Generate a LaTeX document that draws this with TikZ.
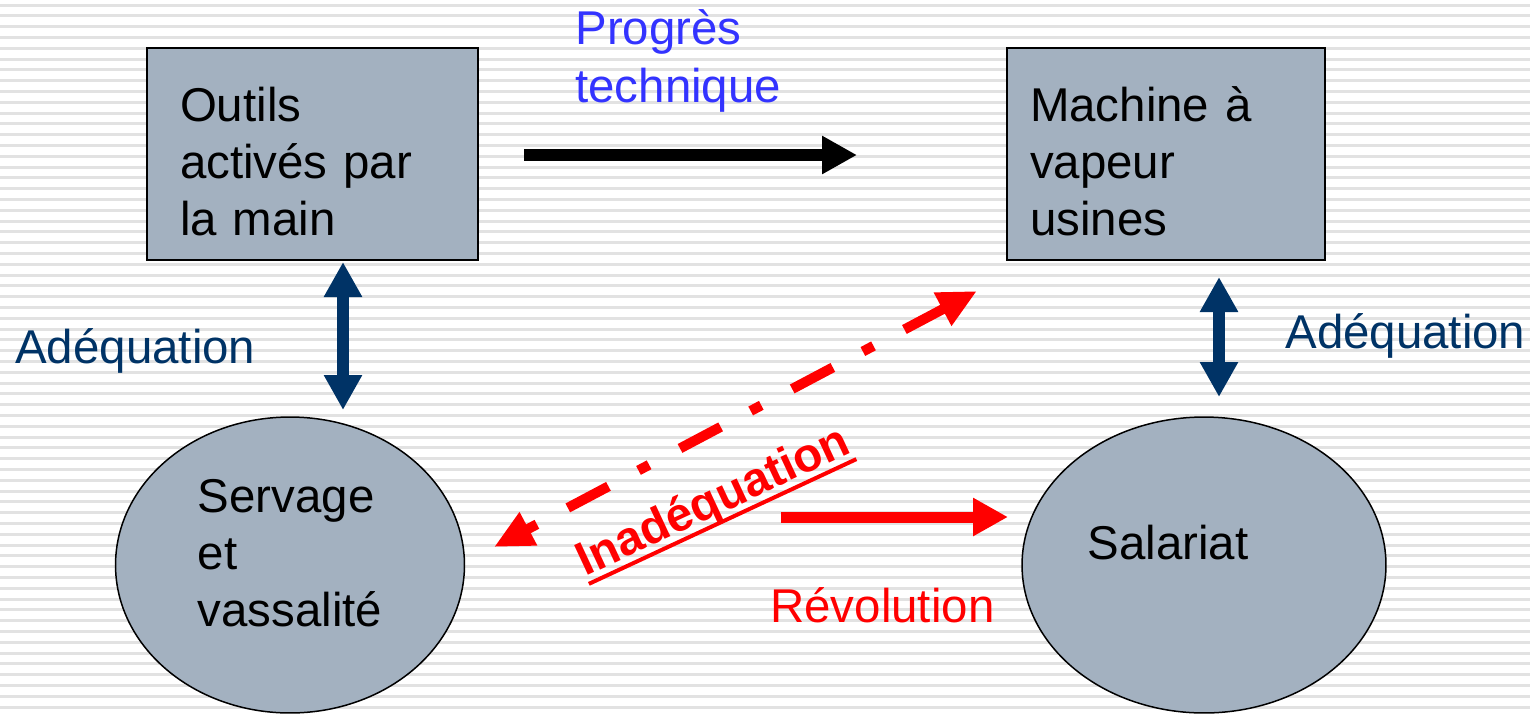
\documentclass[tikz,border=0pt]{standalone}
\usepackage{fontspec}
\setmainfont{Liberation Sans}
\usetikzlibrary{arrows.meta,shapes.geometric}

\definecolor{fondgris}{RGB}{163,177,192}
\definecolor{adeqbleu}{RGB}{0,51,102}
\definecolor{progbleu}{RGB}{51,51,255}
\definecolor{rayure}{RGB}{226,226,226}

% soulignement epais
\newcommand{\souligner}[1]{\setbox0=\hbox{#1}%
  \hbox{\rlap{\rule[-0.2cm]{\wd0}{0.08cm}}\box0}}

\begin{document}
\begin{tikzpicture}[
x=0.02cm,y=-0.02cm,
font=\fontsize{27}{32.5}\selectfont,
stade/.style={rectangle,draw=black,fill=fondgris,line width=0.05cm,
  minimum height=4.24cm,inner ysep=0pt,align=left,
  execute at begin node={\rule{0pt}{0.98cm}}},
rapport/.style={ellipse,draw=black,fill=fondgris,line width=0.03cm,
  minimum height=5.92cm,align=left,inner sep=0pt},
etiquette/.style={inner sep=0pt,align=left,anchor=west},
fleche/.style={line width=0.24cm,-{Triangle[length=0.7cm,width=0.72cm]}},
adeq/.style={adeqbleu,line width=0.24cm,
  {Triangle[length=0.7cm,width=0.72cm]}-{Triangle[length=0.7cm,width=0.72cm]}},
inadeq/.style={red,line width=0.2cm,
  dash pattern=on 0.24cm off 0.7cm on 0.92cm off 0.68cm,
  {Triangle[length=0.78cm,width=0.7cm]}-{Triangle[length=0.78cm,width=0.7cm]}}
]

\useasboundingbox (0,0) rectangle (1530,714);
% fond raye
\foreach \i in {0,...,65}
  \draw[rayure,line width=0.06cm] (0,5+10.8*\i) -- (1530,5+10.8*\i);

% forces productives
\node[stade,minimum width=6.62cm,text width=5.3cm,inner xsep=0.66cm] (outils) at (312.5,154)
  {Outils\\activés par\\la main};
\node[stade,minimum width=6.36cm,text width=5.44cm,inner xsep=0.46cm] (machine) at (1166,154)
  {Machine à\\vapeur\\usines};

% rapports de production
\node[rapport,minimum width=6.98cm] (servage) at (290,565)
  {Servage\\et\\vassalité\par\vspace*{0.48cm}};
\node[rapport,minimum width=7.28cm] (salariat) at (1204,565) {};
\node[inner sep=0pt] (salariatt) at (1168,543) {Salariat};

% extremites des fleches
\coordinate (p1) at (524,155);
\coordinate (p2) at (857,155);
\coordinate (a1) at (343,262);
\coordinate (a2) at (343,410);
\coordinate (b1) at (1219,277);
\coordinate (b2) at (1219,397);
\coordinate (i1) at (494,547);
\coordinate (i2) at (977,291);
\coordinate (r1) at (781,517);
\coordinate (r2) at (1008,517);

\draw[fleche] (p1) -- (p2);
\draw[adeq] (a1) -- (a2);
\draw[adeq] (b1) -- (b2);
\draw[inadeq] (i1) -- (i2);
\draw[fleche,red,line width=0.22cm] (r1) -- (r2);

% textes
\node[etiquette,text=progbleu] (progres) at (575,61) {Progrès\\technique};
\node[etiquette,text=adeqbleu] (adeqg) at (15,351) {Adéquation};
\node[etiquette,text=adeqbleu] (adeqd) at (1285,336) {Adéquation};
\node[etiquette,text=red] (revol) at (770,605) {Révolution};
\node[inner sep=0pt,text=red,font=\fontsize{27}{32.5}\selectfont\bfseries,rotate=25] (inadeqt)
  at (714,503) {\souligner{Inadéquation}};
\end{tikzpicture}
\end{document}
